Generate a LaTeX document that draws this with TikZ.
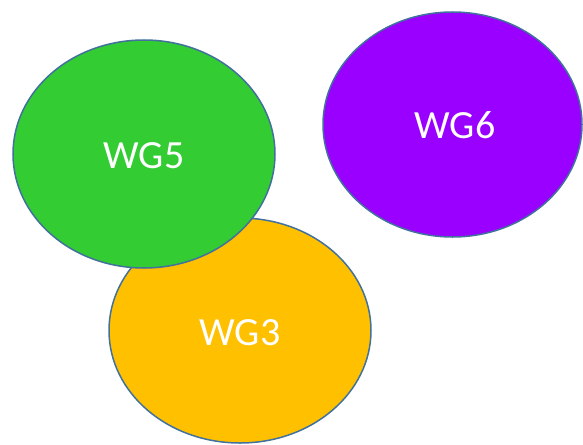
\documentclass[tikz,border=0pt]{standalone}
\usepackage{fontspec}
\setmainfont{Carlito}
\definecolor{wgborder}{HTML}{41719C}
\definecolor{wggreen}{HTML}{33CC33}
\definecolor{wgpurple}{HTML}{9900FF}
\definecolor{wgorange}{HTML}{FFC000}
\begin{document}
\begin{tikzpicture}[x=1pt,y=-1pt,
  blob/.style={draw=wgborder,line width=1.5pt},
  lbl/.style={text=white,font=\fontsize{40}{48}\selectfont,inner sep=0pt}]
\useasboundingbox (0,0) rectangle (583,444);
\path[blob,fill=wgpurple] (452.5,124.5) ellipse [x radius=129.5, y radius=112.5];
\path[blob,fill=wgorange] (240,330.5) ellipse [x radius=131, y radius=112.5];
\path[blob,fill=wggreen] (144,154) ellipse [x radius=131, y radius=114];
\node[lbl] (wg6) at (455,125) {WG6};
\node[lbl] (wg3) at (240,333) {WG3};
\node[lbl] (wg5) at (144,155.5) {WG5};
\end{tikzpicture}
\end{document}
